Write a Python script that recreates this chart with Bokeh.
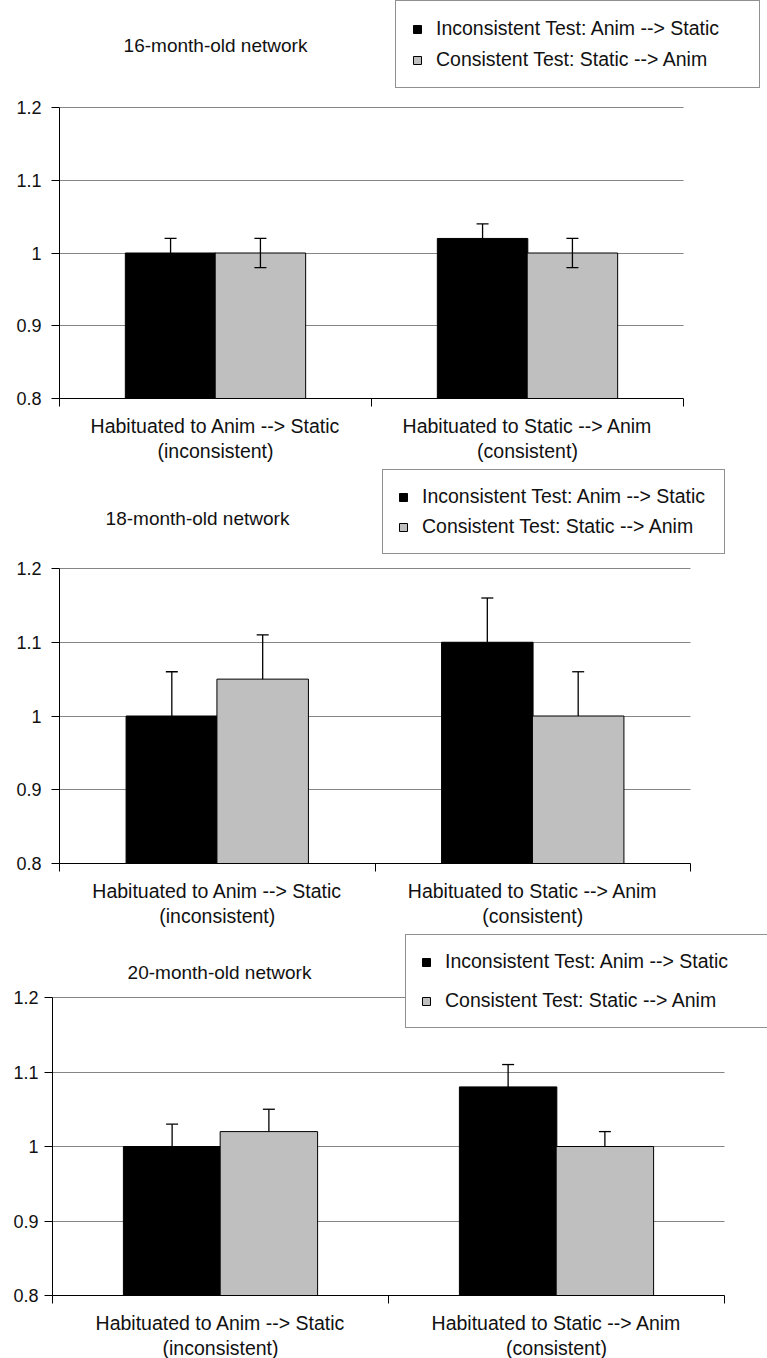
from bokeh.plotting import figure
from bokeh.models import (ColumnDataSource, Range1d, FixedTicker, LinearAxis, Whisker,
                          TeeHead, Label, NumeralTickFormatter)
from bokeh.transform import dodge
from bokeh.layouts import column, row
from bokeh.embed import file_html
from bokeh.resources import INLINE

# ---------------- data ----------------
categories = ["Habituated to Anim --> Static\n(inconsistent)",
              "Habituated to Static --> Anim\n(consistent)"]
series_names = ["Inconsistent Test: Anim --> Static",
                "Consistent Test: Static --> Anim"]
titles = ["16-month-old network", "18-month-old network", "20-month-old network"]

inconsistent_16 = [1.00, 1.02]
consistent_16 = [1.00, 1.00]
inconsistent_16_err = [0.02, 0.02]
consistent_16_err = [0.02, 0.02]

inconsistent_18 = [1.00, 1.10]
consistent_18 = [1.05, 1.00]
inconsistent_18_err = [0.06, 0.06]
consistent_18_err = [0.06, 0.06]

inconsistent_20 = [1.00, 1.08]
consistent_20 = [1.02, 1.00]
inconsistent_20_err = [0.03, 0.03]
consistent_20_err = [0.03, 0.02]

y_ticks = [0.8, 0.9, 1.0, 1.1, 1.2]

FONT = "Liberation Sans"
TXT = "#111111"
GRAY = "#bfbfbf"
PAGE_W = 767

# layout (pixels): left = axis x, axis_px = width of the category axis,
# top_px = space above the 1.2 line, plot_px = height from 0.8 to 1.2
panels = [
    dict(title=titles[0], inc=inconsistent_16, con=consistent_16,
         inc_e=inconsistent_16_err, con_e=consistent_16_err, both=True,
         left=59, axis_px=624, top_px=107, plot_px=291, bb=67,
         title_xy=(156, 353), leg_xy=(336, 310), leg_lw=307, leg_sp=8, leg_pad=16,
         ystand=10),
    dict(title=titles[1], inc=inconsistent_18, con=consistent_18,
         inc_e=inconsistent_18_err, con_e=consistent_18_err, both=False,
         left=59, axis_px=631, top_px=103, plot_px=295, bb=67,
         title_xy=(138, 345), leg_xy=(323, 309), leg_lw=287, leg_sp=7, leg_pad=15,
         ystand=10),
    dict(title=titles[2], inc=inconsistent_20, con=consistent_20,
         inc_e=inconsistent_20_err, con_e=consistent_20_err, both=False,
         left=52, axis_px=672, top_px=67, plot_px=298, bb=63,
         title_xy=(167, 323), leg_xy=(353, 267), leg_lw=370, leg_sp=16, leg_pad=15,
         ystand=6),
]

OFF = 0.144
BW = 0.29


def make_panel(cfg):
    n = len(categories)
    fw = PAGE_W - cfg["left"]
    fh = cfg["top_px"] + cfg["plot_px"]
    y0, y1 = y_ticks[0], y_ticks[-1]
    y_end = y1 + (y1 - y0) * cfg["top_px"] / cfg["plot_px"]
    x_end = n * fw / cfg["axis_px"]

    p = figure(frame_width=fw, frame_height=fh,
               min_border_left=cfg["left"], min_border_right=0,
               min_border_top=0, min_border_bottom=cfg["bb"],
               x_range=Range1d(0, x_end), y_range=Range1d(y0, y_end),
               output_backend="svg", toolbar_location=None,
               background_fill_color="white", border_fill_color="white")
    p.outline_line_color = None

    centers = [i + 0.5 for i in range(n)]
    inc_lo = [v - e if cfg["both"] else v for v, e in zip(cfg["inc"], cfg["inc_e"])]
    con_lo = [v - e if cfg["both"] else v for v, e in zip(cfg["con"], cfg["con_e"])]
    src = ColumnDataSource(dict(
        x=centers, inc=cfg["inc"], con=cfg["con"],
        inc_hi=[v + e for v, e in zip(cfg["inc"], cfg["inc_e"])],
        con_hi=[v + e for v, e in zip(cfg["con"], cfg["con_e"])],
        inc_lo=inc_lo, con_lo=con_lo))

    p.vbar(x=dodge("x", -OFF, range=p.x_range), top="inc", bottom=y0,
           width=BW, source=src, fill_color="black", line_color="black",
           line_width=1, legend_label=series_names[0])
    p.vbar(x=dodge("x", OFF, range=p.x_range), top="con", bottom=y0,
           width=BW, source=src, fill_color=GRAY, line_color="black",
           line_width=1, legend_label=series_names[1])

    for key, d in (("inc", -OFF), ("con", OFF)):
        w = Whisker(base=dodge("x", d, range=p.x_range), upper=key + "_hi",
                    lower=key + "_lo", source=src, line_color="black",
                    line_width=1.3, level="overlay",
                    upper_head=TeeHead(size=12, line_color="black", line_width=1.3),
                    lower_head=(TeeHead(size=12, line_color="black", line_width=1.3)
                                if cfg["both"] else None))
        p.add_layout(w)

    # grid
    p.xgrid.visible = False
    p.ygrid.ticker = FixedTicker(ticks=y_ticks)
    p.ygrid.grid_line_color = "#858585"
    p.ygrid.grid_line_width = 1
    try:
        p.ygrid.cross_bounds = (0, n)
    except Exception:
        pass

    # y axis
    ya = p.yaxis[0]
    ya.ticker = FixedTicker(ticks=y_ticks)
    ya.bounds = (y0, y1)
    ya.formatter = NumeralTickFormatter(format="0.[0]")
    ya.axis_line_color = "black"
    ya.major_tick_line_color = "black"
    ya.major_tick_out = 8
    ya.major_tick_in = 0
    ya.minor_tick_line_color = None
    ya.major_label_standoff = cfg["ystand"]
    ya.major_label_text_font = FONT
    ya.major_label_text_font_size = "18px"
    ya.major_label_text_color = TXT

    # x axis: category boundary ticks only
    xa = p.xaxis[0]
    xa.ticker = FixedTicker(ticks=list(range(n + 1)))
    xa.bounds = (0, n)
    xa.major_label_overrides = {i: "" for i in range(n + 1)}
    xa.axis_line_color = "black"
    xa.major_tick_line_color = "black"
    xa.major_tick_out = 8
    xa.major_tick_in = 0
    xa.minor_tick_line_color = None
    xa.major_label_standoff = 0
    xa.major_label_text_font_size = "1px"

    # category labels
    ca = LinearAxis(ticker=FixedTicker(ticks=centers),
                    major_label_overrides={c: t for c, t in zip(centers, categories)},
                    axis_line_color=None, major_tick_line_color=None,
                    minor_tick_line_color=None, major_label_standoff=2,
                    major_label_text_font=FONT, major_label_text_font_size="19.5px",
                    major_label_text_color=TXT, major_label_text_line_height=1.18)
    p.add_layout(ca, "below")

    # title
    p.add_layout(Label(x=cfg["title_xy"][0], y=cfg["title_xy"][1],
                       x_units="screen", y_units="screen", text=cfg["title"],
                       text_align="center", text_baseline="middle",
                       text_font=FONT, text_font_size="19px", text_color=TXT))

    # legend
    lg = p.legend[0]
    lg.location = cfg["leg_xy"]
    lg.border_line_color = "#222222"
    lg.border_line_width = 1
    lg.background_fill_color = "white"
    lg.background_fill_alpha = 1
    lg.label_text_font = FONT
    lg.label_text_font_size = "19.5px"
    lg.label_text_color = TXT
    lg.glyph_width = 10
    lg.glyph_height = 10
    lg.label_standoff = 14
    lg.label_width = cfg["leg_lw"]
    lg.padding = cfg["leg_pad"]
    lg.spacing = cfg["leg_sp"]
    lg.margin = 0
    return p


figs = [make_panel(c) for c in panels]
layout = column(*[row(f) for f in figs], spacing=0)
open("out.html", "w").write(file_html(layout, INLINE))
